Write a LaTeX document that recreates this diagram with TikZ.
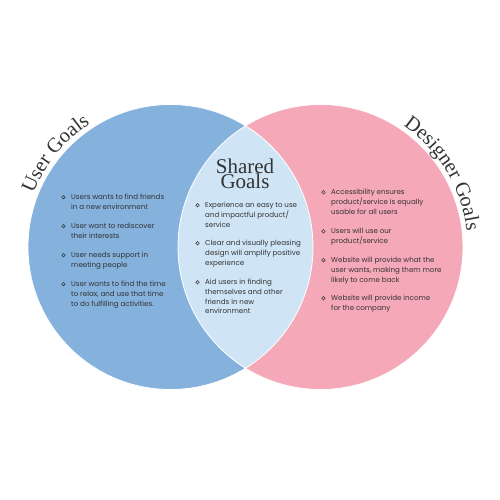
\documentclass[tikz,border=0pt]{standalone}
\usepackage{fontspec}
\setmainfont{Poppins}
\newfontfamily\titlefont{Liberation Serif}
\usetikzlibrary{decorations.text}
\definecolor{userblue}{HTML}{85B1DD}
\definecolor{designpink}{HTML}{F5A9B8}
\definecolor{sharedblue}{HTML}{CFE5F6}
\definecolor{inkgray}{HTML}{333333}

\begin{document}
\begin{tikzpicture}[x=1pt,y=-1pt]
	\tikzstyle{goalset}=[circle,minimum size=285pt,inner sep=0pt]
	\tikzstyle{item}=[anchor=north west,inner sep=0pt,align=left,text=inkgray,font=\fontsize{7.1}{9.7}\selectfont]
	\tikzstyle{bullet}=[circle,draw=inkgray,line width=0.5pt,minimum size=3.6pt,inner sep=0pt]
	\useasboundingbox (0,0) rectangle (500,500);
	\fill[white] (0,0) rectangle (500,500);
	
	% the two sets and their overlap
	\node[goalset,fill=userblue] (user) at (170.5,247) {};
	\node[goalset,fill=designpink] (designer) at (320.5,247) {};
	\begin{scope}
		\clip (user.center) circle[radius=142.5];
		\fill[sharedblue] (designer.center) circle[radius=142.5];
	\end{scope}
	\draw[white,line width=0.8pt] (user.center) circle[radius=142.5] (designer.center) circle[radius=142.5];
	
	% titles
	\path[decorate,decoration={text along path,text align=center,text color=inkgray,
		text={|\titlefont\fontsize{20.5}{20.5}\selectfont|User Goals}}]
		(user.center) ++(189:147) arc[start angle=189,end angle=249,radius=147];
	\path[decorate,decoration={text along path,text align=center,text color=inkgray,
		text={|\titlefont\fontsize{20.5}{20.5}\selectfont|Designer Goals}}]
		(designer.center) ++(-61:147) arc[start angle=-61,end angle=-1,radius=147];
	\node[font=\titlefont\fontsize{21}{15}\selectfont,align=center,text=inkgray] (shared) at (245,174) {Shared\\Goals};
	
	% goal lists
	\foreach \n/\x/\y/\t in {u1/71/194/{Users wants to find friends\\in a new environment},
		u2/71/223/{User want to rediscover\\their interests},
		u3/71/252/{User needs support in\\meeting people},
		u4/71/281/{User wants to find the time\\to relax, and use that time\\to do fulfilling activities.},
		s1/205/202/{Experience an easy to use\\and impactful product/\\service},
		s2/205/240/{Clear and visually pleasing\\design will amplify positive\\experience},
		s3/205/279/{Aid users in finding\\themselves and other\\friends in new\\environment},
		d1/331/189/{Accessibility ensures\\product/service is equally\\usable for all users},
		d2/331/228/{Users will use our\\product/service},
		d3/331/257/{Website will provide what the\\user wants, making them more\\likely to come back},
		d4/331/295/{Website will provide income\\for the company}}
	{
		\node[item] (\n) at (\x,\y) {\t};
		\node[bullet] (\n-dot) at ([xshift=-7.5pt,yshift=-3.2pt]\n.north west) {};
	}
\end{tikzpicture}
\end{document}
